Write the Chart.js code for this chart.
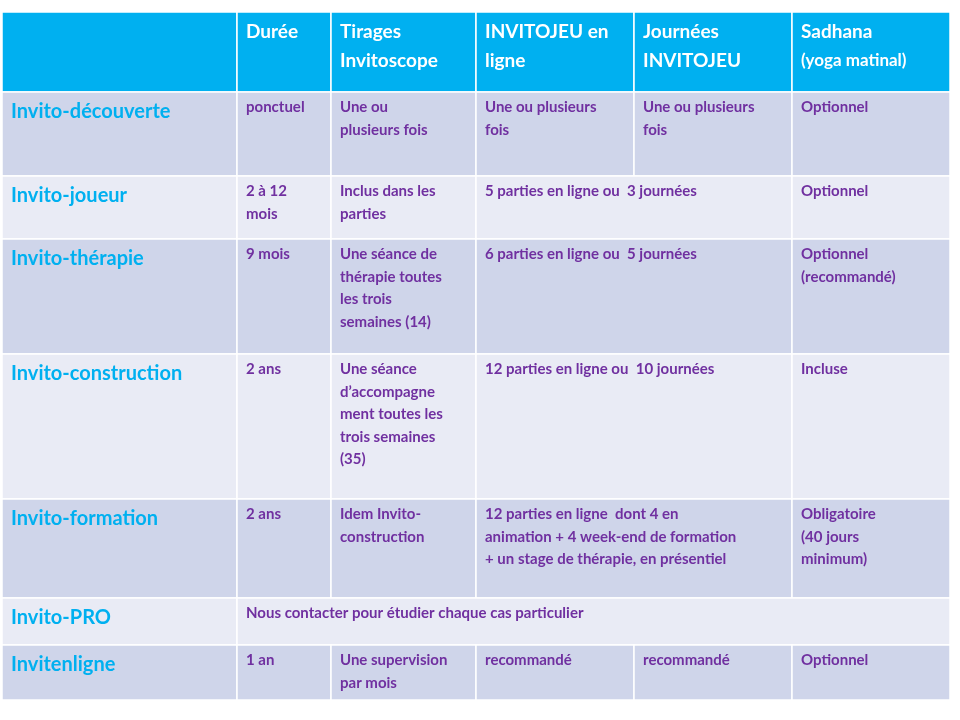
<!DOCTYPE html>
<html><head><meta charset="utf-8">
<script src="https://cdn.jsdelivr.net/npm/chart.js@4"></script>
<style>body{margin:0;background:#fff}#wrap{width:960px;height:720px}</style>
</head><body><div id="wrap"><canvas id="c"></canvas></div>
<script>
// table content
const headers = ['', 'Durée', 'Tirages\nInvitoscope', 'INVITOJEU en\nligne', 'Journées\nINVITOJEU', 'Sadhana\n(yoga matinal)'];
const formulas = ['Invito-découverte', 'Invito-joueur', 'Invito-thérapie', 'Invito-construction', 'Invito-formation', 'Invito-PRO', 'Invitenligne'];
const durees = ['ponctuel', '2 à 12\nmois', '9 mois', '2 ans', '2 ans', null, '1 an'];
const tirages = ['Une ou\nplusieurs fois', 'Inclus dans les\nparties', 'Une séance de\nthérapie toutes\nles trois\nsemaines (14)', 'Une séance\nd’accompagne\nment toutes les\ntrois semaines\n(35)', 'Idem Invito-\nconstruction', null, 'Une supervision\npar mois'];
const enLigne = ['Une ou plusieurs\nfois', '5 parties en ligne ou  3 journées', '6 parties en ligne ou  5 journées', '12 parties en ligne ou  10 journées', '12 parties en ligne  dont 4 en\nanimation + 4 week-end de formation\n+ un stage de thérapie, en présentiel', null, 'recommandé'];
const journees = ['Une ou plusieurs\nfois', null, null, null, null, null, 'recommandé'];
const sadhana = ['Optionnel', 'Optionnel', 'Optionnel\n(recommandé)', 'Incluse', 'Obligatoire\n(40 jours\nminimum)', null, 'Optionnel'];
const proText = 'Nous contacter pour étudier chaque cas particulier';

// layout (in scale units = px)
const colEdges = [2, 237, 331, 476, 634, 792, 950];
const rowEdges = [12, 92, 176, 239, 354, 499, 598, 645, 700];

const tablePlugin = {
  id: 'table',
  afterDraw(chart) {
    const ctx = chart.ctx, sx = chart.scales.x, sy = chart.scales.y;
    const X = v => sx.getPixelForValue(v), Y = v => sy.getPixelForValue(v);
    const cell = (c0, c1, r, fill) => {
      ctx.fillStyle = fill;
      ctx.fillRect(X(colEdges[c0]), Y(rowEdges[r]), X(colEdges[c1]) - X(colEdges[c0]), Y(rowEdges[r + 1]) - Y(rowEdges[r]));
      ctx.strokeStyle = '#fff'; ctx.lineWidth = 1.5;
      ctx.strokeRect(X(colEdges[c0]), Y(rowEdges[r]), X(colEdges[c1]) - X(colEdges[c0]), Y(rowEdges[r + 1]) - Y(rowEdges[r]));
    };
    const text = (s, c, r, font, color, dy, lh) => {
      if (!s) return;
      ctx.font = font; ctx.fillStyle = color; ctx.textBaseline = 'top'; ctx.textAlign = 'left';
      s.split('\n').forEach((ln, i) => ctx.fillText(ln, X(colEdges[c]) + 9, Y(rowEdges[r]) + dy + i * lh));
    };
    ctx.save();
    // header
    for (let c = 0; c < 6; c++) cell(c, c + 1, 0, '#00B0F0');
    headers.forEach((h, c) => {
      if (c === 5) {
        const [a, b] = h.split('\n');
        text(a, c, 0, 'bold 19px Lato', '#fff', 10, 29);
        ctx.font = 'bold 17px Lato'; ctx.fillText(b, X(colEdges[c]) + 9, Y(rowEdges[0]) + 40);
      } else text(h, c, 0, 'bold 19px Lato', '#fff', 10, 29);
    });
    const cols = [durees, tirages, enLigne, journees, sadhana];
    formulas.forEach((f, i) => {
      const r = i + 1, fill = i % 2 === 0 ? '#CFD5EA' : '#E9EBF5';
      cell(0, 1, r, fill);
      if (f === 'Invito-PRO') cell(1, 6, r, fill);
      else if (journees[i] === null) { cell(1, 2, r, fill); cell(2, 3, r, fill); cell(3, 5, r, fill); cell(5, 6, r, fill); }
      else for (let c = 1; c < 6; c++) cell(c, c + 1, r, fill);
      text(f, 0, r, 'bold 20px Lato', '#00B0F0', 10, 22);
      if (f === 'Invito-PRO') text(proText, 1, r, 'bold 15px Lato', '#7030A0', 8, 22.5);
      else cols.forEach((arr, k) => text(arr[i], k + 1, r, 'bold 15px Lato', '#7030A0', 8, 22.5));
    });
    ctx.restore();
  }
};

new Chart(document.getElementById('c'), {
  type: 'scatter',
  data: { datasets: [{ data: [] }] },
  options: {
    responsive: true, maintainAspectRatio: false, animation: false,
    layout: { padding: 0 },
    plugins: { legend: { display: false }, tooltip: { enabled: false } },
    scales: {
      x: { type: 'linear', min: 0, max: 960, display: false },
      y: { type: 'linear', min: 0, max: 720, reverse: true, display: false }
    }
  },
  plugins: [tablePlugin]
});
</script></body></html>
